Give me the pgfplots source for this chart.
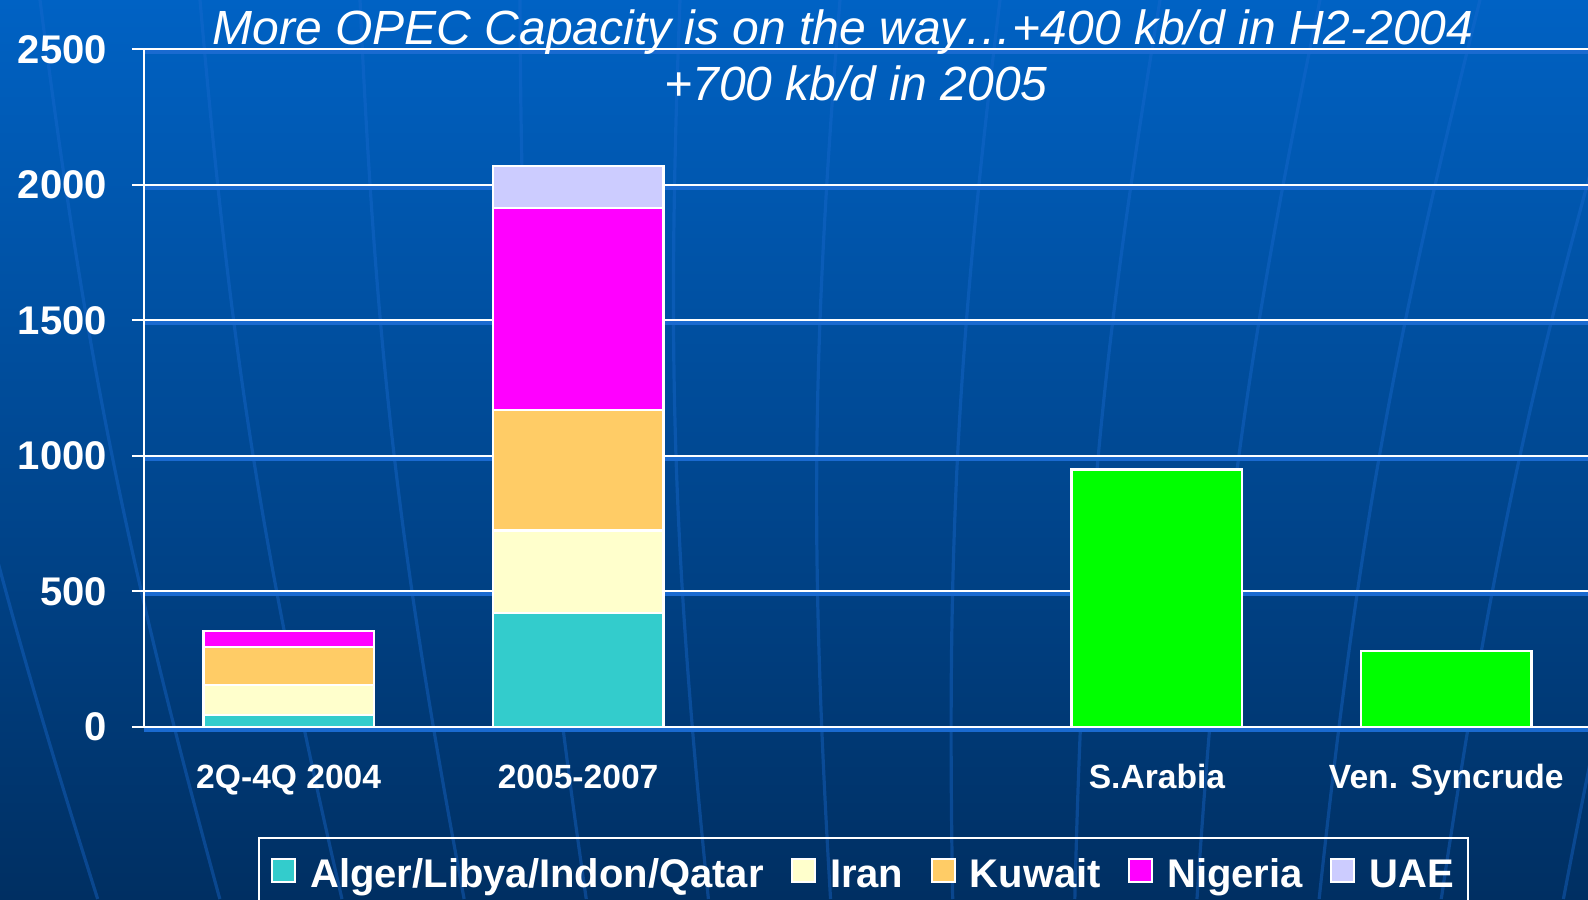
\documentclass[border=0pt]{standalone}
\usepackage{pgfplots}
\pgfplotsset{compat=1.18}
\usepackage{fontspec}
\setmainfont{Liberation Sans}

\definecolor{bgtop}{HTML}{0062C4}
\definecolor{bgmid}{HTML}{004C9E}
\definecolor{bgbot}{HTML}{002F62}
\definecolor{globe}{HTML}{1A6AD0}
\definecolor{cteal}{HTML}{33CCCC}
\definecolor{ciran}{HTML}{FFFFCC}
\definecolor{ckuwait}{HTML}{FFCC66}
\definecolor{cnigeria}{HTML}{FF00FF}
\definecolor{cuae}{HTML}{CCCCFF}
\definecolor{cgreen}{HTML}{00FF00}

\begin{document}
\begin{tikzpicture}
\useasboundingbox (0pt,0pt) rectangle (794pt,449.5pt);
\clip (0pt,0pt) rectangle (794pt,449.5pt);
\shade[top color=bgtop, middle color=bgmid, bottom color=bgbot] (0pt,0pt) rectangle (794pt,449.5pt);
% faint globe lines of the slide background
\foreach \xt in {-60,20,100,180,260,340,420,500,580,660,740,820,900}{
  \pgfmathsetmacro{\xb}{\xt+(400-(\xt))*0.2366}
  \draw[globe, line width=1.6pt, opacity=0.4] (\xt pt,449.5pt) to[bend right=4] (\xb pt,0pt);
}

\begin{axis}[
  at={(72pt,86pt)}, anchor=south west,
  scale only axis,
  width=723.5pt, height=338.75pt,
  ybar stacked, bar width=0.59,
  xmin=-0.5, xmax=4.5,
  ymin=0, ymax=2500,
  axis x line*=bottom, axis y line*=left,
  axis line style={white, line width=1pt},
  ytick={0,500,...,2500},
  ymajorgrids,
  major grid style={white, line width=1pt,
    preaction={draw=globe, line width=2pt, transform canvas={yshift=-1.4pt}}},
  tick align=outside,
  major tick length=6pt,
  minor tick length=4.5pt,
  y tick style={white, line width=1pt},
  xtick={0,...,4},
  xticklabels={2Q-4Q 2004, 2005-2007, , S.Arabia, Ven. Syncrude},
  x tick style={draw=none},
  minor xtick={-0.5,0.5,...,4.5},
  minor x tick style={white, line width=1pt},
  /pgf/number format/assume math mode=true,
  /pgf/number format/1000 sep={},
  yticklabel style={text=white, font=\bfseries\fontsize{20}{20}\selectfont, xshift=-9pt},
  xticklabel style={text=white, font=\bfseries\fontsize{16.8}{17}\selectfont, anchor=base, yshift=-24.5pt},
  legend image code/.code={\draw[#1, line width=1pt] (0pt,-3.5pt) rectangle (11.5pt,8pt);},
  legend columns=5,
  legend style={
    at={(axis description cs:0.0788,-0.1618)}, anchor=north west,
    draw=white, line width=1.2pt, fill=none, text=white,
    font=\bfseries\fontsize{20}{20}\selectfont,
    inner xsep=6pt, inner ysep=9.5pt,
    nodes={inner sep=1pt},
    /tikz/every odd column/.append style={column sep=6pt},
    /tikz/every even column/.append style={column sep=12.7pt},
  },
]
\addplot[fill=cteal, draw=white, line width=1.2pt] coordinates {(0,45) (1,420) (2,0) (3,0) (4,0)};
\addplot[fill=ciran, draw=white, line width=1.2pt] coordinates {(0,110) (1,305) (2,0) (3,0) (4,0)};
\addplot[fill=ckuwait, draw=white, line width=1.2pt] coordinates {(0,140) (1,445) (2,0) (3,0) (4,0)};
\addplot[fill=cnigeria, draw=white, line width=1.2pt] coordinates {(0,60) (1,745) (2,0) (3,0) (4,0)};
\addplot[fill=cuae, draw=white, line width=1.2pt] coordinates {(0,0) (1,155) (2,0) (3,0) (4,0)};
\addplot[fill=cgreen, draw=white, line width=1.2pt] coordinates {(0,0) (1,0) (2,0) (3,950) (4,280)};
\legend{Alger/Libya/Indon/Qatar, Iran, Kuwait, Nigeria, UAE}
\end{axis}

\node[anchor=base, text=white, font=\itshape\fontsize{24}{24}\selectfont] at (421.5pt,427.2pt) {More OPEC Capacity is on the way…+400 kb/d in H2-2004};
\node[anchor=base, text=white, font=\itshape\fontsize{24}{24}\selectfont] at (428pt,399pt) {+700 kb/d in 2005};
\end{tikzpicture}
\end{document}
